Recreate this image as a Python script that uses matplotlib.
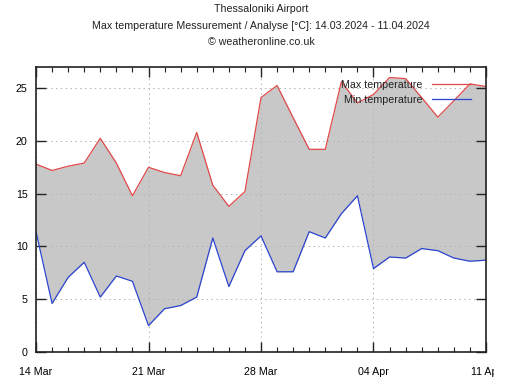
import numpy as np
import matplotlib as mpl
mpl.use('Agg')
import matplotlib.pyplot as plt
from matplotlib.ticker import MultipleLocator
from matplotlib.transforms import Bbox

#Datos, un valor por dia del 14.03 al 11.04
dias=list(range(29))
tmax=[17.8,17.2,17.6,17.9,20.25,17.9,14.8,17.5,17.0,16.7,20.8,15.8,13.8,15.2,
      24.1,25.25,22.2,19.2,19.2,25.6,23.6,24.4,26.0,25.9,24.1,22.25,23.8,25.4,25.15]
tmin=[11.4,4.6,7.07,8.5,5.2,7.2,6.7,2.5,4.1,4.4,5.2,10.8,6.2,9.6,
      11.0,7.6,7.6,11.4,10.8,13.1,14.8,7.9,9.0,8.9,9.8,9.6,8.9,8.6,8.7]
xticks=[0,7,14,21,28]
xlabels=['14 Mar','21 Mar','28 Mar','04 Apr','11 Apr']
yticks=[0,5,10,15,20,25]

titulo1='Thessaloniki Airport'
titulo2='Max temperature Messurement / Analyse [°C]: 14.03.2024 - 11.04.2024'
titulo3='© weatheronline.co.uk'

#--------------------------------
params={'font.family':['Liberation Sans','DejaVu Sans'],'font.size':7.7,
        'xtick.labelsize':7.7,'ytick.labelsize':7.7}
mpl.rcParams.update(params)

fig=plt.figure(figsize=[5.06,3.92],dpi=100)
ax=fig.add_axes((36/506,1-352/392,450/506,285/392))

ax.fill_between(dias,tmin,tmax,color='#c8c8c8',linewidth=0,zorder=1)
ax.plot(dias,tmax,'-',color='#e04848',linewidth=0.9,label='Max temperature',zorder=3)
ax.plot(dias,tmin,'-',color='#2c44d0',linewidth=0.9,label='Min temperature',zorder=3)

ax.set_xlim(0,28)
ax.set_ylim(0,27)
ax.set_xticks(xticks)
ax.set_xticklabels(xlabels)
ax.xaxis.set_minor_locator(MultipleLocator(1))
ax.set_yticks(yticks)

ax.grid(True,color='#b4b4b4',linestyle=(0,(1.5,3.5)),linewidth=0.7,zorder=2)
ax.set_axisbelow(False)
ax.tick_params(which='major',direction='in',length=7,width=1,top=True,right=True,color='#222222')
ax.tick_params(which='minor',direction='in',length=3.5,width=0.8,top=True,right=False,color='#222222')
ax.tick_params(axis='x',which='major',pad=10.5)
ax.tick_params(axis='y',which='major',pad=6)
for s in ax.spines.values():
    s.set_linewidth(1.2)
    s.set_color('#222222')
    s.set_zorder(4)

#La ultima etiqueta sale cortada en el original
ult=ax.get_xticklabels()[-1]
ult.set_clip_box(Bbox.from_extents(0,0,494,392))
ult.set_clip_on(True)

leg=ax.legend(loc='upper right',bbox_to_anchor=(471/506,1-80/392),bbox_transform=fig.transFigure,
              frameon=False,markerfirst=False,handlelength=3.6,handletextpad=0.9,
              borderpad=0,borderaxespad=0,labelspacing=0.45)
for t in leg.get_texts():
    t.set_color('#222222')

fig.text(261/506,1-9/392,titulo1,ha='center',va='center',color='#222222')
fig.text(261/506,1-26/392,titulo2,ha='center',va='center',color='#222222')
fig.text(261/506,1-42/392,titulo3,ha='center',va='center',color='#222222')

fig.savefig('out.png',dpi=100)
